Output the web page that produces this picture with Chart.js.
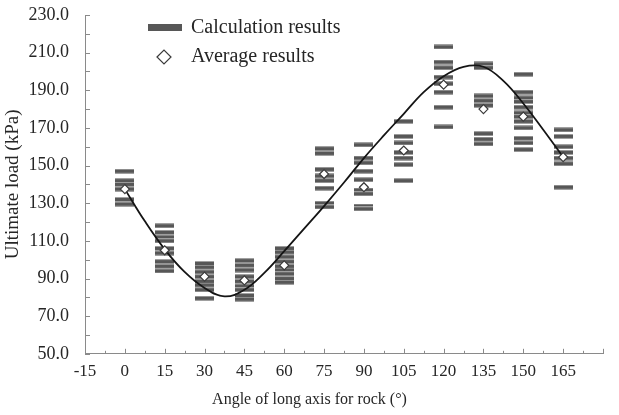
<!DOCTYPE html>
<html>
<head>
<meta charset="utf-8">
<script src="https://cdn.jsdelivr.net/npm/chart.js@4.4.1/dist/chart.umd.min.js"></script>
<style>
  html, body { margin: 0; padding: 0; background: #fff; }
</style>
</head>
<body>
<canvas id="load" width="619" height="415"></canvas>
<script>
// rock long-axis angle (deg)
var angles = [0, 15, 30, 45, 60, 75, 90, 105, 120, 135, 150, 165];

// calculation results for each angle (kPa)
var calc0   = [147, 142, 140, 137.5, 132, 129.5];
var calc15  = [118, 114.5, 112, 110, 106, 103.5, 99, 96.5, 94];
var calc30  = [98, 96, 93.5, 91, 88.5, 86.5, 84, 79.5];
var calc45  = [99.5, 97, 94.5, 91, 88.5, 86, 84, 81, 79];
var calc60  = [106, 104, 101.5, 99, 96.5, 94.5, 92.5, 90, 88];
var calc75  = [159, 156.5, 148, 144.5, 142, 138, 130, 128];
var calc90  = [161, 154, 151.5, 147, 142.5, 137, 135, 128.5, 127];
var calc105 = [173.5, 165.5, 162, 157, 154, 150.5, 142];
var calc120 = [213, 205, 202, 197, 193.5, 189, 181, 170.5];
var calc135 = [204, 202, 187, 184.5, 182, 167, 164, 161.5];
var calc150 = [198.5, 189, 186, 184, 181, 178, 176, 173.5, 170, 164.5, 162, 158.5];
var calc165 = [169, 165.5, 160, 157, 154, 151, 138.5];

// average of the results
var avgLoad = [137.5, 105, 91, 89, 97, 145.5, 138.5, 158, 193, 180, 176, 154.5];

// fitted trend line
var fitAngle = [0, 7.5, 15, 22.5, 30, 37.5, 45, 52.5, 60, 67.5, 75, 82.5, 90,
                97.5, 105, 112.5, 120, 127.5, 135, 142.5, 150, 157.5, 165];
var fitLoad = [137.5, 120.5, 105.5, 93.5, 85, 80.5, 84, 93, 104.5, 116.5, 128.5, 141, 154,
               166, 177.5, 189, 197.5, 202.5, 202.5, 195, 183, 169, 154.5];

var calcByAngle = [calc0, calc15, calc30, calc45, calc60, calc75, calc90,
                   calc105, calc120, calc135, calc150, calc165];

var FONT = 'Liberation Serif, "Times New Roman", serif';
var TEXT = '#262626';
var AXIS = '#8a8a8a';
var BAR = '#575757';

var calcPoints = [];
calcByAngle.forEach(function (vals, i) {
  vals.forEach(function (v) { calcPoints.push({ x: angles[i], y: v }); });
});
var avgPoints = angles.map(function (a, i) { return { x: a, y: avgLoad[i] }; });
var fitPoints = fitAngle.map(function (a, i) { return { x: a, y: fitLoad[i] }; });

// small horizontal bar used as the marker for single results
function barMarker(w, h) {
  var c = document.createElement('canvas');
  c.width = w; c.height = h;
  var g = c.getContext('2d');
  g.fillStyle = '#a0a0a0';
  g.fillRect(0, 0, w, h);
  g.fillStyle = BAR;
  g.fillRect(0, 1, w, h - 2);
  return c;
}

// ticks pointing into the plot, with minor ticks between labels
var innerTicks = {
  id: 'innerTicks',
  afterDraw: function (chart) {
    var c = chart.ctx, area = chart.chartArea;
    var xs = chart.scales.x, ys = chart.scales.y;
    c.save();
    c.strokeStyle = AXIS;
    c.lineWidth = 1;
    c.beginPath();
    for (var v = -15; v <= 180; v += 7.5) {
      var px = Math.round(xs.getPixelForValue(v)) + 0.5;
      var len = (v % 15 === 0) ? 5 : 3;
      c.moveTo(px, area.bottom);
      c.lineTo(px, area.bottom - len);
    }
    for (var w = 50; w <= 230; w += 10) {
      var py = Math.round(ys.getPixelForValue(w)) + 0.5;
      c.moveTo(area.left, py);
      c.lineTo(area.left + 5, py);
    }
    c.stroke();
    c.restore();
  }
};

// legend box in the upper-left corner of the plot
var cornerLegend = {
  id: 'cornerLegend',
  afterDraw: function (chart) {
    var c = chart.ctx;
    c.save();
    c.fillStyle = BAR;
    c.fillRect(148, 24, 34, 7);
    c.beginPath();
    c.moveTo(157, 57); c.lineTo(164, 50); c.lineTo(171, 57); c.lineTo(164, 64);
    c.closePath();
    c.fillStyle = '#fff';
    c.fill();
    c.strokeStyle = '#3a3a3a';
    c.lineWidth = 1.2;
    c.stroke();
    c.fillStyle = TEXT;
    c.font = '20px ' + FONT;
    c.textBaseline = 'middle';
    c.fillText(chart.data.datasets[0].label, 191, 28);
    c.fillText(chart.data.datasets[2].label, 191, 57);
    c.restore();
  }
};

new Chart(document.getElementById('load'), {
  type: 'scatter',
  data: {
    datasets: [
      {
        label: 'Calculation results',
        data: calcPoints,
        pointStyle: barMarker(19, 5),
        pointRadius: 9,
        order: 3
      },
      {
        type: 'line',
        label: 'Fit',
        data: fitPoints,
        borderColor: '#151515',
        borderWidth: 1.8,
        pointRadius: 0,
        tension: 0.4,
        fill: false,
        order: 2
      },
      {
        label: 'Average results',
        data: avgPoints,
        pointStyle: 'rectRot',
        pointRadius: 4.5,
        backgroundColor: '#fff',
        borderColor: '#3a3a3a',
        borderWidth: 1.2,
        order: 1
      }
    ]
  },
  options: {
    responsive: false,
    animation: false,
    layout: { autoPadding: false, padding: { top: 15, right: 0, left: 0, bottom: 0 } },
    plugins: {
      legend: { display: false },
      tooltip: { enabled: false },
      title: {
        display: true,
        position: 'bottom',
        text: 'Angle of long axis for rock (°)',
        color: TEXT,
        font: { family: FONT, size: 16, weight: 'normal' },
        padding: { top: 0, bottom: 6 }
      }
    },
    scales: {
      x: {
        type: 'linear',
        min: -15,
        max: 180,
        grid: { display: false, drawTicks: false },
        border: { color: AXIS, width: 1 },
        ticks: {
          stepSize: 15,
          padding: 8,
          autoSkip: false,
          maxRotation: 0,
          color: TEXT,
          font: { family: FONT, size: 17 },
          callback: function (v) { return v === 180 ? '' : v; }
        },
        afterFit: function (s) {
          s.height = 36;
          s.paddingRight = 16;
        }
      },
      y: {
        min: 50,
        max: 230,
        grid: { display: false, drawTicks: false },
        border: { color: AXIS, width: 1 },
        ticks: {
          stepSize: 20,
          padding: 16,
          color: TEXT,
          font: { family: FONT, size: 18 },
          callback: function (v) { return v.toFixed(1); }
        },
        title: {
          display: true,
          text: 'Ultimate load (kPa)',
          color: TEXT,
          font: { family: FONT, size: 19 },
          padding: { top: 2, bottom: 0 }
        },
        afterFit: function (s) {
          s.width = 85;
          s.paddingTop = 0;
          s.paddingBottom = 0;
        }
      }
    }
  },
  plugins: [innerTicks, cornerLegend]
});
</script>
</body>
</html>
